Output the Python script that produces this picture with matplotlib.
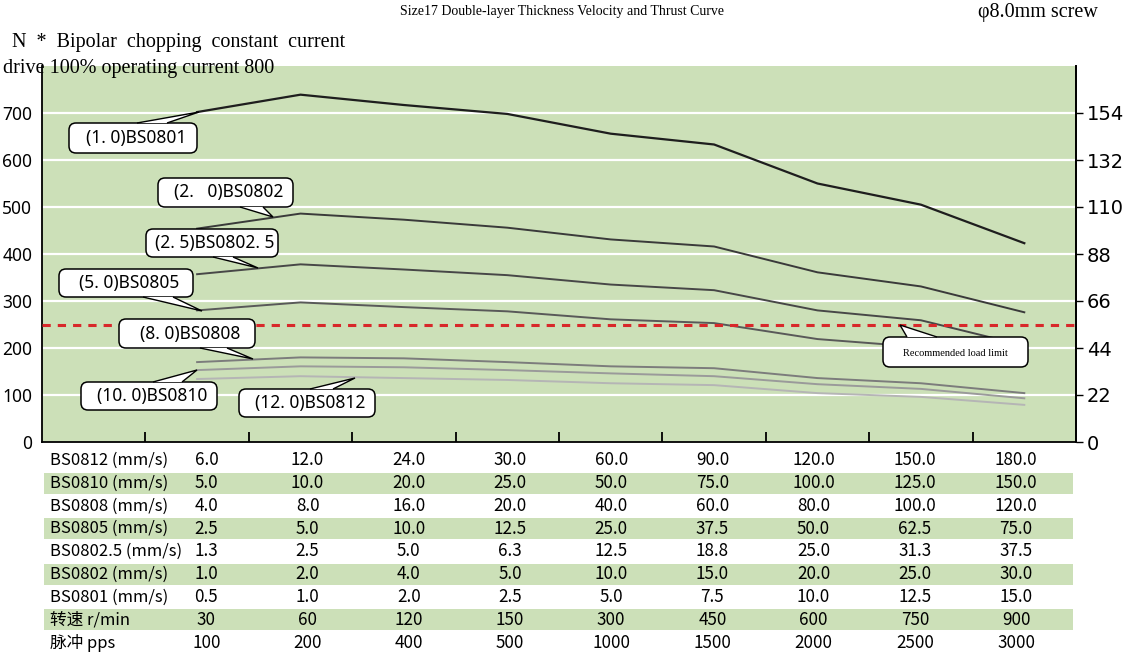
import numpy as np
import matplotlib.pyplot as plt
from matplotlib.patches import FancyBboxPatch, Polygon
from matplotlib.transforms import Affine2D

# thrust curves (N) at the 9 speed columns
BS0801 = [702, 739, 717, 698, 656, 633, 550, 505, 423]
BS0802 = [454, 486, 473, 456, 431, 416, 361, 331, 276]
BS0802_5 = [357, 378, 367, 355, 335, 323, 280, 259, 205]
BS0805 = [280, 297, 287, 278, 261, 253, 219, 202, 183]
BS0808 = [170, 180, 178, 170, 161, 157, 136, 125, 104]
BS0810 = [153, 161, 159, 153, 146, 140, 123, 113, 93]
BS0812 = [134, 140, 136, 132, 125, 121, 104, 96, 79]
load_limit = 250

row_labels = ["BS0812 (mm/s)", "BS0810 (mm/s)", "BS0808 (mm/s)", "BS0805 (mm/s)",
              "BS0802.5 (mm/s)", "BS0802 (mm/s)", "BS0801 (mm/s)", "转速 r/min", "脉冲 pps"]
v0812 = [6.0, 12.0, 24.0, 30.0, 60.0, 90.0, 120.0, 150.0, 180.0]
v0810 = [5.0, 10.0, 20.0, 25.0, 50.0, 75.0, 100.0, 125.0, 150.0]
v0808 = [4.0, 8.0, 16.0, 20.0, 40.0, 60.0, 80.0, 100.0, 120.0]
v0805 = [2.5, 5.0, 10.0, 12.5, 25.0, 37.5, 50.0, 62.5, 75.0]
v0802_5 = [1.3, 2.5, 5.0, 6.3, 12.5, 18.8, 25.0, 31.3, 37.5]
v0802 = [1.0, 2.0, 4.0, 5.0, 10.0, 15.0, 20.0, 25.0, 30.0]
v0801 = [0.5, 1.0, 2.0, 2.5, 5.0, 7.5, 10.0, 12.5, 15.0]
rpm = [30, 60, 120, 150, 300, 450, 600, 750, 900]
pps = [100, 200, 400, 500, 1000, 1500, 2000, 2500, 3000]

left_ticks = [0, 100, 200, 300, 400, 500, 600, 700]
right_ticks = [0, 22, 44, 66, 88, 110, 132, 154]

GREEN = "#cce0b8"
x = np.arange(9) + 1.5

fig = plt.figure(figsize=(11.25, 6.55), dpi=100)
W, H = 1125, 655
# pixel coordinates, origin top-left, for the callout boxes
tr = Affine2D().scale(1 / W, -1 / H).translate(0, 1) + fig.transFigure

ax = fig.add_axes([42 / W, 1 - 442 / H, 1034 / W, 376 / H])
ax.set_facecolor(GREEN)
ax.set_xlim(0, 10)
ax.set_ylim(0, 800)
for g in left_ticks[1:]:
    ax.axhline(g, color="white", lw=1.6, zorder=1)

curves = [(BS0801, "#1e1e1e", 1.6), (BS0802, "#3a3a3a", 1.4), (BS0802_5, "#474747", 1.4),
          (BS0805, "#595959", 1.4), (BS0808, "#7c7c7c", 1.4), (BS0810, "#9a9a9a", 1.4),
          (BS0812, "#b5b5b5", 1.4)]
for vals, c, lw in curves:
    ax.plot(x, vals, color=c, lw=lw, zorder=3)

ax.axhline(load_limit, color="#d8282a", lw=2.2, ls=(0, (2.7, 2.3)), zorder=4)

ax.spines["top"].set_visible(False)
for s in ["left", "bottom", "right"]:
    ax.spines[s].set_linewidth(1.3)
ax.set_yticks(left_ticks)
ax.tick_params(axis="y", length=0, pad=7, labelsize=12.5)
ax.set_xticks(np.arange(1, 10))
ax.set_xticklabels([])
ax.tick_params(axis="x", direction="in", length=7, width=1.3)
for lab in ax.get_yticklabels():
    lab.set_family("Noto Sans")

ax2 = ax.twinx()
ax2.set_ylim(0, 176)
ax2.set_yticks(right_ticks)
ax2.tick_params(axis="y", length=5, width=1, pad=3, labelsize=14)
for lab in ax2.get_yticklabels():
    lab.set_family("Liberation Sans Narrow")
for s in ["top", "left", "bottom"]:
    ax2.spines[s].set_visible(False)
ax2.spines["right"].set_linewidth(1.3)

# callouts: text, box (x0, y0, x1, y1), pointer base on top/bottom edge, tip
cjk = ["Noto Sans CJK SC", "DejaVu Sans"]
callouts = [
    ("(1. 0)BS0801", (69, 123, 197, 153), "top", (137, 167), (199, 112)),
    ("(2.   0)BS0802", (158, 178, 293, 207), "bottom", (240, 263), (273, 217)),
    ("(2. 5)BS0802. 5", (146, 229, 278, 257), "bottom", (213, 233), (258, 268)),
    ("(5. 0)BS0805", (59, 269, 193, 297), "bottom", (143, 173), (202, 311)),
    ("(8. 0)BS0808", (119, 319, 255, 348), "bottom", (200, 227), (253, 359)),
    ("(10. 0)BS0810", (81, 382, 217, 410), "top", (153, 182), (197, 370)),
    ("(12. 0)BS0812", (239, 389, 375, 417), "top", (310, 333), (355, 378)),
    ("Recommended load limit", (883, 337, 1028, 367), "top", (907, 937), (900, 325)),
]
for txt, (x0, y0, x1, y1), side, (ba, bb), tip in callouts:
    box = FancyBboxPatch((x0, y0), x1 - x0, y1 - y0, boxstyle="round,pad=0,rounding_size=7",
                         fc="white", ec="black", lw=1.1, transform=tr, clip_on=False, zorder=6)
    ax.add_patch(box)
    ey = y0 if side == "top" else y1
    ptr = Polygon([(ba, ey), tip, (bb, ey)], closed=False, fc="white", ec="black", lw=1.0,
                  transform=tr, clip_on=False, zorder=7)
    ax.add_patch(ptr)
    if txt.startswith("Rec"):
        ax.text((x0 + x1) / 2, (y0 + y1) / 2 + 1, txt, ha="center", va="center", fontsize=7.5,
                family="Liberation Serif", transform=tr, zorder=8)
    else:
        ax.text((x0 + x1) / 2 + 3, (y0 + y1) / 2, txt, ha="center", va="center", fontsize=12.5,
                family="Noto Sans", transform=tr, zorder=8)

# table under the chart
tb = fig.add_axes([42 / W, 1 - 654 / H, 1034 / W, 205 / H])
tb.set_xlim(0, 10)
tb.set_ylim(9, 0)
tb.axis("off")
rows = [v0812, v0810, v0808, v0805, v0802_5, v0802, v0801, rpm, pps]
col_x = np.linspace(1.59, 9.42, 9)
for i, (lab, vals) in enumerate(zip(row_labels, rows)):
    if i % 2 == 1:
        tb.barh(i + 0.5, 9.95, left=0.02, height=0.92, color=GREEN, zorder=0)
    tb.text(0.08, i + 0.5, lab, ha="left", va="center", fontsize=12, family=cjk)
    for cx, v in zip(col_x, vals):
        s = f"{v:.1f}" if i < 7 else f"{v:d}"
        tb.text(cx, i + 0.5, s, ha="center", va="center", fontsize=12.3, family=cjk)

# header texts
fig.text(562 / W, 1 - 12 / H, "Size17 Double-layer Thickness Velocity and Thrust Curve",
         ha="center", va="center", fontsize=10, family="Liberation Serif")
fig.text(1038 / W, 1 - 12 / H, "φ8.0mm screw", ha="center", va="center", fontsize=14.5,
         family="Liberation Serif")
fig.text(12 / W, 1 - 42 / H, "N  *  Bipolar  chopping  constant  current", ha="left", va="center",
         fontsize=14.5, family="Liberation Serif")
fig.text(3 / W, 1 - 69 / H, "drive 100% operating current 800", ha="left", va="center",
         fontsize=14.5, family="Liberation Serif", zorder=10)

fig.savefig("out.png", dpi=100)
